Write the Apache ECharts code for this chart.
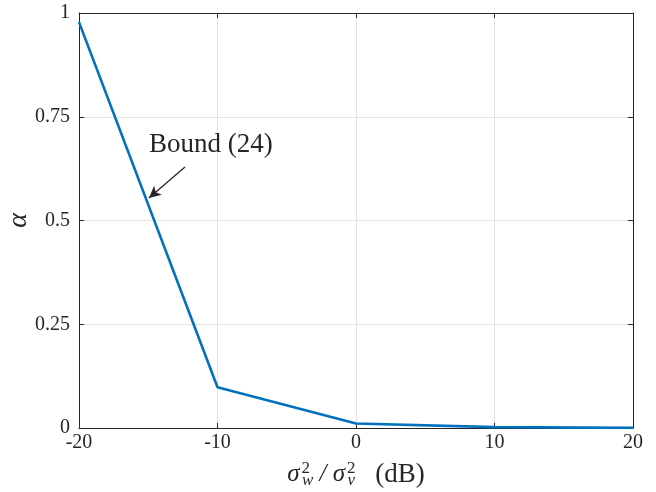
<!DOCTYPE html>
<html><head><meta charset="utf-8">
<script src="https://cdn.jsdelivr.net/npm/echarts@6/dist/echarts.min.js"></script>
<style>html,body{margin:0;padding:0;background:#fff}#c{width:656px;height:492px}</style>
</head><body><div id="c"></div>
<script>
const xValues = [-20, -10, 0, 10, 20];
const alphaValues = [0.978, 0.098, 0.011, 0.002, 0.0003];
const xTicks = [-20, -10, 0, 10, 20];
const yTicks = [0, 0.25, 0.5, 0.75, 1];
const annText = 'Bound (24)';
const annTextPos = [-14.95, 0.682];
const arrowFrom = [-12.35, 0.629];
const arrowTo = [-14.95, 0.554];

const font = '"Liberation Serif","DejaVu Serif",serif';
const chart = echarts.init(document.getElementById('c'));
const fmtY = v => { const s = yTicks.find(t => Math.abs(t - v) < 1e-9); return s === undefined ? '' : String(s); };
chart.setOption({
  animation: false,
  grid: { left: 79, right: 23, top: 13, bottom: 64, outerBoundsMode: 'none', containLabel: false },
  xAxis: [{
    type: 'value', min: -20, max: 20, interval: 10,
    axisLine: { show: true, onZero: false, lineStyle: { color: '#262626', width: 1 } },
    axisTick: { show: true, inside: true, length: 5, lineStyle: { color: '#262626' } },
    splitLine: { show: true, lineStyle: { color: '#e3e3e3', width: 1 } },
    axisLabel: { color: '#262626', fontFamily: font, fontSize: 20, margin: 5 },
    name: '{s|σ}{sup|2}{sub|w}{s| / σ}{sup|2}{sub|v}{u|   (dB)}',
    nameLocation: 'middle', nameGap: 32, nameMoveOverlap: false,
    nameTextStyle: { rich: {
      s: { fontFamily: font, fontSize: 25, color: '#262626', fontStyle: 'italic' },
      u: { fontFamily: font, fontSize: 27, color: '#262626' },
      sup: { fontFamily: font, fontSize: 17, color: '#262626', verticalAlign: 'top', padding:[0,0,12,2] },
      sub: { fontFamily: font, fontSize: 17, color: '#262626', fontStyle: 'italic', verticalAlign: 'bottom', padding:[10,0,0,-8] }
    } }
  }, {
    type: 'value', min: -20, max: 20, interval: 10, position: 'top',
    axisLine: { show: true, onZero: false, lineStyle: { color: '#262626', width: 1 } },
    axisTick: { show: true, inside: true, length: 5, lineStyle: { color: '#262626' } },
    axisLabel: { show: false }, splitLine: { show: false }
  }],
  yAxis: [{
    type: 'value', min: 0, max: 1, interval: 0.25,
    axisLine: { show: true, onZero: false, lineStyle: { color: '#262626', width: 1 } },
    axisTick: { show: true, inside: true, length: 5, lineStyle: { color: '#262626' } },
    splitLine: { show: true, lineStyle: { color: '#e3e3e3', width: 1 } },
    axisLabel: { color: '#262626', fontFamily: font, fontSize: 20, margin: 9, formatter: fmtY },
    name: 'α', nameLocation: 'middle', nameGap: 46, nameRotate: 90, nameMoveOverlap: false,
    nameTextStyle: { fontFamily: font, fontSize: 28, fontStyle: 'italic', color: '#262626' }
  }, {
    type: 'value', min: 0, max: 1, interval: 0.25, position: 'right',
    axisLine: { show: true, onZero: false, lineStyle: { color: '#262626', width: 1 } },
    axisTick: { show: true, inside: true, length: 5, lineStyle: { color: '#262626' } },
    axisLabel: { show: false }, splitLine: { show: false }
  }],
  series: [{
    type: 'line', data: xValues.map((x, i) => [x, alphaValues[i]]),
    showSymbol: false, lineStyle: { color: '#0072BD', width: 2.6 }, z: 3,
    markLine: {
      silent: true, symbol: ['none', 'arrow'], symbolSize: [9, 12],
      lineStyle: { color: '#262626', width: 1.3, type: 'solid' },
      label: { show: false },
      data: [[{ coord: arrowFrom }, { coord: arrowTo }]]
    },
    markPoint: {
      silent: true, symbol: 'circle', symbolSize: 0,
      data: [{ coord: annTextPos, label: { show: true, formatter: annText, position: 'right', distance: 0,
        fontFamily: font, fontSize: 27, color: '#262626' } }]
    }
  }]
});
</script></body></html>
